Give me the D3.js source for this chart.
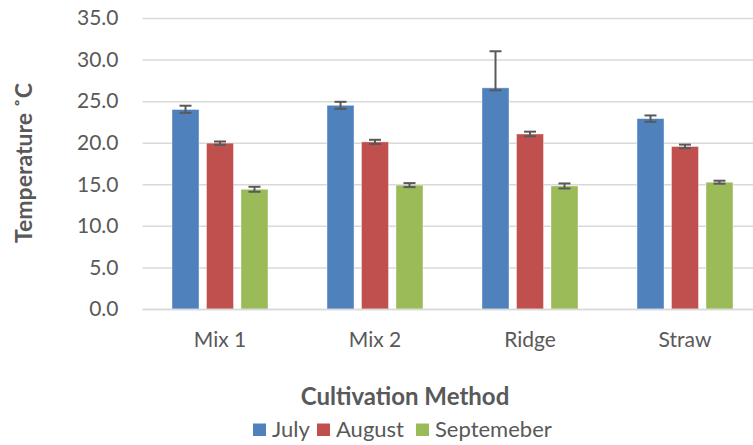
<!DOCTYPE html>
<html><head><meta charset="utf-8">
<script src="https://cdn.jsdelivr.net/npm/d3@7"></script>
<style>
html,body{margin:0;padding:0;background:#fff;}
svg{display:block;font-family:Lato,"Open Sans",sans-serif;}
</style></head>
<body>
<svg id="chart" width="753" height="445"></svg>
<script>
const categories = ["Mix 1", "Mix 2", "Ridge", "Straw"];
const seriesNames = ["July", "August", "Septemeber"];
const julyValues = [24.0, 24.5, 26.6, 22.9];
const julyErrPlus = [0.45, 0.42, 4.4, 0.38];
const julyErrMinus = [0.4, 0.42, 0.3, 0.38];
const augustValues = [19.95, 20.1, 21.05, 19.55];
const augustErr = [0.2, 0.25, 0.28, 0.22];
const septValues = [14.4, 14.9, 14.8, 15.25];
const septErr = [0.3, 0.24, 0.3, 0.18];
const yTicks = [0, 5, 10, 15, 20, 25, 30, 35];
const colors = ["#4f81bd", "#c0504d", "#9bbb59"];

const seriesData = [
  {name: seriesNames[0], values: julyValues, plus: julyErrPlus, minus: julyErrMinus},
  {name: seriesNames[1], values: augustValues, plus: augustErr, minus: augustErr},
  {name: seriesNames[2], values: septValues, plus: septErr, minus: septErr}
];

const svg = d3.select("#chart");
const plotLeft = 142.5, plotRight = 762.5, plotTop = 18, plotBottom = 309;

const y = d3.scaleLinear().domain([0, 35]).range([plotBottom, plotTop]);
const x0 = d3.scaleBand().domain(categories).range([plotLeft, plotRight]).padding(0);
const step = x0.step();
const x1 = d3.scaleBand().domain(seriesNames)
  .range([step / 2 - 48, step / 2 + 48]).paddingInner(0.217).paddingOuter(0);
const color = d3.scaleOrdinal().domain(seriesNames).range(colors);

// gridlines
const yAxis = d3.axisLeft(y).tickValues(yTicks).tickSize(-(plotRight - plotLeft))
  .tickFormat(d3.format(".1f")).tickPadding(24);
const gy = svg.append("g").attr("transform", `translate(${plotLeft},0)`).call(yAxis);
gy.select(".domain").remove();
gy.selectAll(".tick line").attr("stroke", "#d9d9d9").attr("stroke-width", 1.5);
gy.selectAll(".tick text").attr("fill", "#595959").style("font-size", "21px")
  .style("font-family", "Lato, 'Open Sans', sans-serif");

// bars
const groups = svg.append("g").selectAll("g").data(categories).join("g")
  .attr("transform", d => `translate(${x0(d)},0)`);

groups.selectAll("rect").data((c, ci) => seriesData.map(s => ({s: s.name, v: s.values[ci]})))
  .join("rect")
  .attr("x", d => x1(d.s))
  .attr("width", x1.bandwidth())
  .attr("y", d => y(d.v))
  .attr("height", d => y(0) - y(d.v))
  .attr("fill", d => color(d.s))
  .attr("stroke", "#ffffff").attr("stroke-opacity", 0.5).attr("stroke-width", 0.8);

// error bars
const errData = [];
categories.forEach((c, ci) => seriesData.forEach(s => {
  errData.push({c, s: s.name, v: s.values[ci], p: s.plus[ci], m: s.minus[ci]});
}));
const eg = svg.append("g").attr("stroke", "#595959").attr("stroke-width", 2);
errData.forEach(d => {
  const cx = x0(d.c) + x1(d.s) + x1.bandwidth() / 2;
  const yt = y(d.v + d.p), yb = y(d.v - d.m);
  eg.append("line").attr("x1", cx).attr("x2", cx).attr("y1", yt).attr("y2", yb);
  eg.append("line").attr("x1", cx - 6).attr("x2", cx + 6).attr("y1", yt).attr("y2", yt);
  eg.append("line").attr("x1", cx - 6).attr("x2", cx + 6).attr("y1", yb).attr("y2", yb);
});

// x axis
const xAxis = d3.axisBottom(x0).tickSize(0).tickPadding(23);
const gx = svg.append("g").attr("transform", `translate(0,${plotBottom})`).call(xAxis);
gx.select(".domain").attr("stroke", "#d9d9d9").attr("stroke-width", 1.5);
gx.selectAll(".tick text").attr("fill", "#595959").style("font-size", "21px")
  .style("font-family", "Lato, 'Open Sans', sans-serif");

// axis titles
svg.append("text").attr("transform", "translate(32,163) rotate(-90)")
  .attr("text-anchor", "middle").attr("fill", "#595959")
  .style("font-size", "23px").style("font-weight", "bold").text("Temperature ˚C");
svg.append("text").attr("x", 405).attr("y", 405)
  .attr("text-anchor", "middle").attr("fill", "#595959")
  .style("font-size", "24px").style("font-weight", "bold").text("Cultivation Method");

// legend
const legendX = [253, 317, 416];
const lg = svg.append("g");
seriesNames.forEach((n, i) => {
  lg.append("rect").attr("x", legendX[i]).attr("y", 423.5).attr("width", 13).attr("height", 12.5)
    .attr("fill", colors[i]);
  lg.append("text").attr("x", legendX[i] + 19).attr("y", 437).attr("fill", "#595959")
    .style("font-size", "22px").text(n);
});
</script>
</body></html>
